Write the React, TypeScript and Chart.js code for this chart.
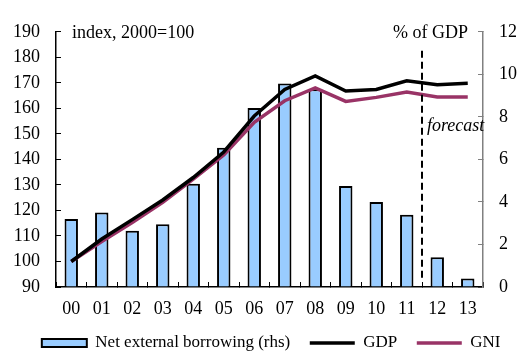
import React, { useEffect, useRef } from "react";
import { Chart, registerables } from "chart.js";

Chart.register(...registerables);

const years = ["00", "01", "02", "03", "04", "05", "06", "07", "08", "09", "10", "11", "12", "13"];
const netExternalBorrowing = [3.2, 3.5, 2.65, 2.95, 4.85, 6.55, 8.42, 9.57, 9.3, 4.75, 4.0, 3.4, 1.4, 0.4];
const gdpIndex = [100, 108.8, 116.4, 124.1, 132.9, 142.9, 157.0, 167.4, 172.7, 166.8, 167.4, 170.8, 169.3, 169.8];
const gniIndex = [100, 107.8, 115.3, 123.2, 132.3, 141.7, 154.5, 163.0, 168.0, 162.7, 164.3, 166.4, 164.5, 164.5];
const leftAxisRange = [90, 190];
const leftAxisStep = 10;
const rightAxisRange = [0, 12];
const rightAxisStep = 2;
const forecastAfterIndex = 11;

const FONT = "'Liberation Serif', 'Times New Roman', serif";
const BAR_FILL = "#99CCFF";
const GNI_COLOR = "#993366";

const annotations = {
  id: "annotations",
  afterDatasetsDraw(chart: any) {
    const { ctx, chartArea, scales } = chart;
    const xs = scales.x;
    const xm = (xs.getPixelForValue(forecastAfterIndex) + xs.getPixelForValue(forecastAfterIndex + 1)) / 2;
    ctx.save();
    ctx.strokeStyle = "#000";
    ctx.lineWidth = 2;
    ctx.setLineDash([7, 4]);
    ctx.beginPath();
    ctx.moveTo(xm, chartArea.top + 19);
    ctx.lineTo(xm, chartArea.bottom - 7);
    ctx.stroke();
    ctx.setLineDash([]);
    ctx.fillStyle = "#000";
    ctx.textBaseline = "middle";
    ctx.font = `18px ${FONT}`;
    ctx.textAlign = "left";
    ctx.fillText("index, 2000=100", chartArea.left + 16, chartArea.top + 1);
    ctx.textAlign = "right";
    ctx.fillText("% of GDP", chartArea.right - 15, chartArea.top + 1);
    ctx.font = `italic 18px ${FONT}`;
    ctx.textAlign = "left";
    ctx.fillText("forecast", xm + 5, chartArea.top + 94);
    ctx.restore();
  },
};

export default function App() {
  const canvasRef = useRef<HTMLCanvasElement | null>(null);

  useEffect(() => {
    const canvas = canvasRef.current;
    if (!canvas) return;
    const tickFont = { family: FONT, size: 18 };
    const chart = new Chart(canvas, {
      type: "bar",
      data: {
        labels: years,
        datasets: [
          {
            type: "bar",
            label: "Net external borrowing (rhs)",
            data: netExternalBorrowing,
            yAxisID: "y1",
            backgroundColor: BAR_FILL,
            borderColor: "#000",
            borderWidth: 2,
            barPercentage: 0.44,
            categoryPercentage: 1,
            order: 3,
          },
          {
            type: "line",
            label: "GDP",
            data: gdpIndex,
            yAxisID: "y",
            borderColor: "#000",
            backgroundColor: "#000",
            borderWidth: 3.5,
            pointRadius: 0,
            tension: 0,
            order: 1,
          },
          {
            type: "line",
            label: "GNI",
            data: gniIndex,
            yAxisID: "y",
            borderColor: GNI_COLOR,
            backgroundColor: GNI_COLOR,
            borderWidth: 3.5,
            pointRadius: 0,
            tension: 0,
            order: 2,
          },
        ] as any,
      },
      options: {
        responsive: false,
        animation: false,
        layout: { padding: { left: 0, right: 0, top: 12, bottom: -9.5 } },
        plugins: {
          tooltip: { enabled: false },
          legend: {
            position: "bottom",
            align: "end",
            labels: {
              usePointStyle: true,
              pointStyleWidth: 45,
              boxWidth: 45,
              boxHeight: 8,
              padding: 19.5,
              color: "#000",
              font: { family: FONT, size: 17 },
              generateLabels: (ch: any) => {
                const ds = ch.data.datasets;
                return ds.map((d: any, i: number) => ({
                  text: d.label,
                  datasetIndex: i,
                  fillStyle: d.backgroundColor,
                  strokeStyle: i === 0 ? "#000" : d.borderColor,
                  lineWidth: i === 0 ? 2 : 3.5,
                  pointStyle: i === 0 ? "rect" : "line",
                  hidden: false,
                  fontColor: "#000",
                }));
              },
            },
          },
        },
        scales: {
          x: {
            type: "category",
            offset: true,
            grid: { offset: true, drawOnChartArea: false, drawTicks: true, tickLength: -5, color: "#000", lineWidth: 1 },
            border: { display: true, color: "#000", width: 1.5 },
            ticks: { font: tickFont, color: "#000", padding: 16.5, maxRotation: 0, autoSkip: false },
            afterFit: (s: any) => {
              s.height = 28;
            },
          },
          y: {
            type: "linear",
            position: "left",
            min: leftAxisRange[0],
            max: leftAxisRange[1],
            ticks: { stepSize: leftAxisStep, padding: 21, font: tickFont, color: "#000" },
            grid: { drawOnChartArea: false, tickLength: -5, color: "#000", lineWidth: 1 },
            border: { display: true, color: "#000", width: 1.5 },
            afterFit: (s: any) => {
              s.width = 56;
            },
          },
          y1: {
            type: "linear",
            position: "right",
            min: rightAxisRange[0],
            max: rightAxisRange[1],
            ticks: { stepSize: rightAxisStep, padding: 21, font: tickFont, color: "#000" },
            grid: { drawOnChartArea: false, tickLength: -5, color: "#808080", lineWidth: 1 },
            border: { display: true, color: "#808080", width: 1.5 },
            afterFit: (s: any) => {
              s.width = 37;
            },
          },
        },
      } as any,
      plugins: [annotations],
    });
    return () => chart.destroy();
  }, []);

  return (
    <div style={{ position: "absolute", left: 0, top: 0, width: 520, height: 352, overflow: "hidden", background: "#fff" }}>
      <canvas ref={canvasRef} width={520} height={352} style={{ display: "block" }} />
    </div>
  );
}
